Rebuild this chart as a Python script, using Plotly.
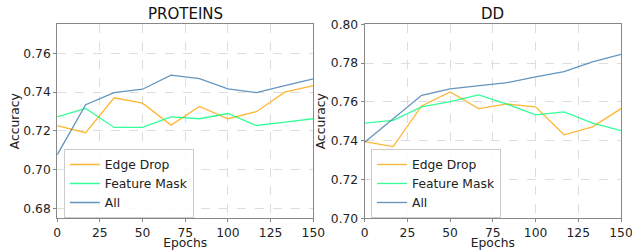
import plotly.graph_objects as go

epochs = [0, 16.67, 33.33, 50, 66.67, 83.33, 100, 116.67, 133.33, 150]

proteins_edge = [0.7228, 0.7191, 0.7371, 0.7343, 0.7230, 0.7326, 0.7263, 0.7299, 0.7400, 0.7434]
proteins_feat = [0.7273, 0.7316, 0.7218, 0.7218, 0.7273, 0.7263, 0.7290, 0.7228, 0.7245, 0.7263]
proteins_all = [0.7077, 0.7335, 0.7398, 0.7415, 0.7488, 0.7470, 0.7417, 0.7398, 0.7434, 0.7469]

dd_edge = [0.7395, 0.7369, 0.7579, 0.7651, 0.7565, 0.7589, 0.7574, 0.7430, 0.7471, 0.7565]
dd_feat = [0.7490, 0.7505, 0.7574, 0.7601, 0.7636, 0.7588, 0.7533, 0.7548, 0.7490, 0.7452]
dd_all = [0.7392, 0.7512, 0.7634, 0.7667, 0.7682, 0.7699, 0.7729, 0.7756, 0.7806, 0.7845]

series_names = ["Edge Drop", "Feature Mask", "All"]
colors = ["rgba(255,165,0,0.8)", "rgba(0,255,127,0.8)", "rgba(70,130,180,0.85)"]

x_ticks = [0, 25, 50, 75, 100, 125, 150]
prot_yticks = [0.68, 0.70, 0.72, 0.74, 0.76]
dd_yticks = [0.70, 0.72, 0.74, 0.76, 0.78, 0.80]

font = "DejaVu Sans, sans-serif"
fig = go.Figure()

panels = [
    ("x", "y", "legend", [proteins_edge, proteins_feat, proteins_all]),
    ("x2", "y2", "legend2", [dd_edge, dd_feat, dd_all]),
]
for xa, ya, lg, data in panels:
    for name, col, vals in zip(series_names, colors, data):
        fig.add_trace(go.Scatter(x=epochs, y=vals, mode="lines", name=name,
                                 line=dict(color=col, width=1.3),
                                 xaxis=xa, yaxis=ya, legend=lg))

axis_common = dict(showline=True, linecolor="#888888", linewidth=1, mirror=True,
                   ticks="outside", ticklen=3, tickcolor="#888888", automargin=False,
                   showgrid=True, gridcolor="#dddddd", griddash="dash", gridwidth=1,
                   zeroline=False, ticklabeloverflow="allow",
                   tickfont=dict(size=12.3, color="#222", family=font))

title_font = dict(size=12.3, color="#222", family=font)
legend_common = dict(xanchor="left", yanchor="top",
                     bgcolor="rgba(255,255,255,0.85)", bordercolor="#cccccc", borderwidth=1,
                     font=dict(size=12.3, color="#222", family=font), tracegroupgap=0)

fig.update_layout(
    width=632, height=250,
    margin=dict(l=0, r=0, t=0, b=0),
    paper_bgcolor="white", plot_bgcolor="white",
    font=dict(family=font, size=12, color="#222"),
    xaxis=dict(domain=[0.0905, 0.4957], range=[0, 150], tickvals=x_ticks,
               title=dict(text="Epochs", standoff=3, font=title_font), anchor="y", **axis_common),
    yaxis=dict(domain=[0.127, 0.903], range=[0.675, 0.775], tickvals=prot_yticks,
               tickformat=".2f", title=dict(text="Accuracy", standoff=1, font=title_font),
               anchor="x", **axis_common),
    xaxis2=dict(domain=[0.577, 0.9826], range=[0, 150], tickvals=x_ticks,
                title=dict(text="Epochs", standoff=3, font=title_font), anchor="y2", **axis_common),
    yaxis2=dict(domain=[0.127, 0.903], range=[0.70, 0.80], tickvals=dd_yticks,
                tickformat=".2f", title=dict(text="Accuracy", standoff=2, font=title_font),
                anchor="x2", **axis_common),
    legend=dict(x=0.101, y=0.404, **legend_common),
    legend2=dict(x=0.587, y=0.404, **legend_common),
    annotations=[
        dict(text="PROTEINS", x=0.293, y=0.9, xref="paper", yref="paper",
             xanchor="center", yanchor="bottom", showarrow=False, font=dict(size=15, color="#111", family=font)),
        dict(text="DD", x=0.78, y=0.9, xref="paper", yref="paper",
             xanchor="center", yanchor="bottom", showarrow=False, font=dict(size=15, color="#111", family=font)),
    ],
)

fig.write_html("out.html", config={"displayModeBar": False},
               post_script="document.body.style.margin='0';document.body.style.overflow='hidden';")
